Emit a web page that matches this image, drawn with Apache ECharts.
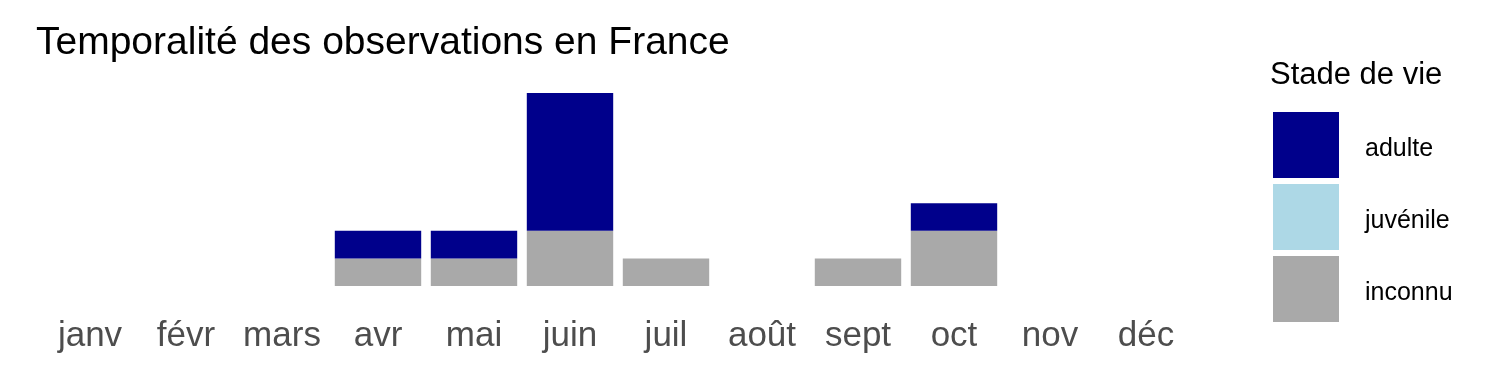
<!DOCTYPE html>
<html>
<head>
<meta charset="utf-8">
<script src="https://cdn.jsdelivr.net/npm/echarts@6/dist/echarts.min.js"></script>
<style>html,body{margin:0;padding:0;background:#fff}#c{width:1500px;height:375px}</style>
</head>
<body>
<div id="c"></div>
<script>
const months = ['janv','févr','mars','avr','mai','juin','juil','août','sept','oct','nov','déc'];
const adulte   = [0,0,0,1,1,5,0,0,0,1,0,0];
const juvenile = [0,0,0,0,0,0,0,0,0,0,0,0];
const inconnu  = [0,0,0,1,1,2,1,0,1,2,0,0];
const seriesNames = ['adulte','juvénile','inconnu'];
const colors = {adulte:'#00008B', 'juvénile':'#ADD8E6', inconnu:'#A9A9A9'};
const yMax = 7;

const font = '"Liberation Sans", Arial, sans-serif';
const chart = echarts.init(document.getElementById('c'), null, {renderer:'canvas'});
function mk(name, data){
  return {name:name, type:'bar', stack:'total', data:data.map(v=>v===0?null:v),
    barWidth:'90%', itemStyle:{color:colors[name]}, emphasis:{disabled:true}};
}
chart.setOption({
  animation:false,
  backgroundColor:'#fff',
  title:{text:'Temporalité des observations en France', left:31, top:19,
    textStyle:{fontFamily:font, fontSize:39, fontWeight:'normal', color:'#000'}},
  grid:{left:42, width:1152, top:93, bottom:89, containLabel:false},
  legend:{orient:'vertical', left:1273, top:112, itemWidth:66, itemHeight:66, itemGap:6,
    padding:0, icon:'rect', data:seriesNames,
    formatter: n => '{a|' + n + '}',
    textStyle:{fontFamily:font, fontSize:25, color:'#000', padding:[0,0,0,21],
      rich:{a:{fontFamily:font, fontSize:25, color:'#000', padding:[8,0,0,0]}}}},
  graphic:[{type:'text', left:1270, top:60,
    style:{text:'Stade de vie', fontFamily:font, fontSize:31, fill:'#000'}}],
  xAxis:{type:'category', data:months, axisLine:{show:false}, axisTick:{show:false},
    splitLine:{show:false},
    axisLabel:{fontFamily:font, fontSize:35, color:'#4D4D4D', margin:33, interval:0}},
  yAxis:{type:'value', min:0, max:yMax, show:false, splitLine:{show:false}},
  series:[mk('inconnu', inconnu), mk('juvénile', juvenile), mk('adulte', adulte)]
});
</script>
</body>
</html>
